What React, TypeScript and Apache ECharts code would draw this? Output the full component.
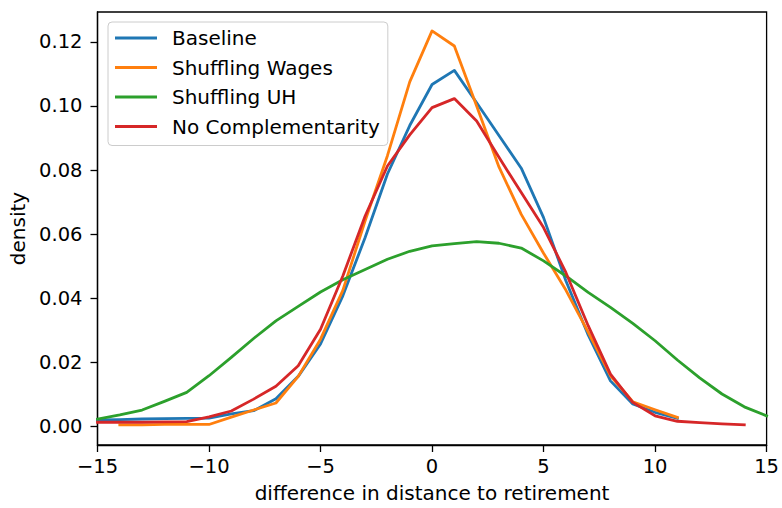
import React, { useEffect, useRef } from "react";
import * as echarts from "echarts";

const seriesNames = ["Baseline", "Shuffling Wages", "Shuffling UH", "No Complementarity"];
const colors = ["#1f77b4", "#ff7f0e", "#2ca02c", "#d62728"];

const xBaseline = [-15, -14, -13, -12, -11, -10, -9, -8, -7, -6, -5, -4, -3, -2, -1, 0, 1, 2, 3, 4, 5, 6, 7, 8, 9, 10, 11];
const baseline = [0.0021, 0.0022, 0.0024, 0.0025, 0.0026, 0.0027, 0.004, 0.005, 0.0087, 0.0157, 0.0258, 0.0408, 0.059, 0.0788, 0.0939, 0.1067, 0.1111, 0.101, 0.0908, 0.0806, 0.0652, 0.0455, 0.0286, 0.0143, 0.0071, 0.0045, 0.0026];

const xWages = [-14, -13, -12, -11, -10, -9, -8, -7, -6, -5, -4, -3, -2, -1, 0, 1, 2, 3, 4, 5, 6, 7, 8, 9, 10, 11];
const wages = [0.0006, 0.0006, 0.0007, 0.0007, 0.0007, 0.003, 0.0052, 0.0074, 0.0157, 0.0273, 0.0425, 0.0642, 0.0845, 0.1075, 0.1234, 0.1187, 0.1, 0.081, 0.0662, 0.0541, 0.0426, 0.0295, 0.0159, 0.0078, 0.0053, 0.0029];

const xUH = [-15, -14, -13, -12, -11, -10, -9, -8, -7, -6, -5, -4, -3, -2, -1, 0, 1, 2, 3, 4, 5, 6, 7, 8, 9, 10, 11, 12, 13, 14, 15];
const uh = [0.0024, 0.0037, 0.0052, 0.0079, 0.0107, 0.0159, 0.0216, 0.0275, 0.033, 0.0375, 0.042, 0.0458, 0.049, 0.0522, 0.0547, 0.0564, 0.0571, 0.0577, 0.0572, 0.0557, 0.0517, 0.047, 0.0419, 0.0372, 0.0322, 0.0268, 0.0208, 0.0152, 0.0102, 0.0062, 0.0034];

const xNoComp = [-15, -14, -13, -12, -11, -10, -9, -8, -7, -6, -5, -4, -3, -2, -1, 0, 1, 2, 3, 4, 5, 6, 7, 8, 9, 10, 11, 12, 13, 14];
const noComp = [0.0014, 0.0014, 0.0014, 0.0015, 0.0016, 0.0031, 0.0049, 0.0086, 0.0126, 0.019, 0.0304, 0.047, 0.0657, 0.0813, 0.091, 0.0995, 0.1023, 0.0953, 0.084, 0.073, 0.0621, 0.0481, 0.0315, 0.0164, 0.0076, 0.0034, 0.0017, 0.0013, 0.0009, 0.0006];

const yTicks = [0, 0.02, 0.04, 0.06, 0.08, 0.1, 0.12];

const FONT = "DejaVu Sans";

function zip(xs: number[], ys: number[]) {
  return xs.map((x, i) => [x, ys[i]]);
}

export default function App() {
  const ref = useRef<HTMLDivElement>(null);
  useEffect(() => {
    const chart = echarts.init(ref.current!, null, { renderer: "svg" });
    const all = [
      zip(xBaseline, baseline),
      zip(xWages, wages),
      zip(xUH, uh),
      zip(xNoComp, noComp),
    ];
    chart.setOption({
      animation: false,
      backgroundColor: "#ffffff",
      textStyle: { fontFamily: FONT },
      grid: {
        left: 97.5,
        right: 13.5,
        top: 12,
        bottom: 62,
        show: true,
        borderColor: "#000000",
        borderWidth: 1.3,
        backgroundColor: "transparent",
      },
      legend: {
        show: true,
        orient: "vertical",
        left: 108,
        top: 22,
        data: seriesNames,
        icon: "rect",
        itemWidth: 42,
        itemHeight: 2.8,
        itemGap: 9.5,
        selectedMode: false,
        backgroundColor: "rgba(255,255,255,0.8)",
        borderColor: "#cccccc",
        borderWidth: 1,
        borderRadius: 4,
        padding: [6, 8, 9, 7],
        textStyle: {
          fontFamily: FONT,
          fontSize: 20,
          color: "#000000",
          lineHeight: 20,
          padding: [0, 0, 0, 10],
        },
      },
      xAxis: {
        type: "value",
        min: -15,
        max: 15,
        interval: 5,
        name: "difference in distance to retirement",
        nameLocation: "middle",
        nameGap: 38,
        nameTextStyle: { fontFamily: FONT, fontSize: 20, color: "#000000" },
        axisLine: { show: true, onZero: false, lineStyle: { color: "#000000", width: 1.3 } },
        axisTick: { show: true, length: 7, inside: false, lineStyle: { color: "#000000", width: 1.3 } },
        axisLabel: {
          margin: 11,
          fontFamily: FONT,
          fontSize: 19.5,
          color: "#000000",
          formatter: (v: number) => String(v).replace("-", "\u2212"),
        },
        splitLine: { show: false },
      },
      yAxis: {
        type: "value",
        min: -0.0057,
        max: 0.1293,
        name: "density",
        nameLocation: "middle",
        nameGap: 68,
        nameRotate: 90,
        nameTextStyle: { fontFamily: FONT, fontSize: 20, color: "#000000" },
        axisLine: { show: true, onZero: false, lineStyle: { color: "#000000", width: 1.3 } },
        axisTick: {
          show: true,
          length: 7,
          inside: false,
          customValues: yTicks,
          lineStyle: { color: "#000000", width: 1.3 },
        },
        axisLabel: {
          margin: 15,
          fontFamily: FONT,
          fontSize: 19.5,
          color: "#000000",
          customValues: yTicks,
          formatter: (v: number) => v.toFixed(2),
        },
        splitLine: { show: false },
      },
      series: seriesNames.map((name, i) => ({
        name,
        type: "line",
        data: all[i],
        symbol: "none",
        showSymbol: false,
        color: colors[i],
        lineStyle: { color: colors[i], width: 2.8, cap: "square", join: "round" },
        z: 2 + i,
        clip: true,
      })),
    });
    return () => chart.dispose();
  }, []);
  return (
    <div
      ref={ref}
      style={{ width: 782, height: 508, position: "absolute", left: 0, top: 0 }}
    />
  );
}
